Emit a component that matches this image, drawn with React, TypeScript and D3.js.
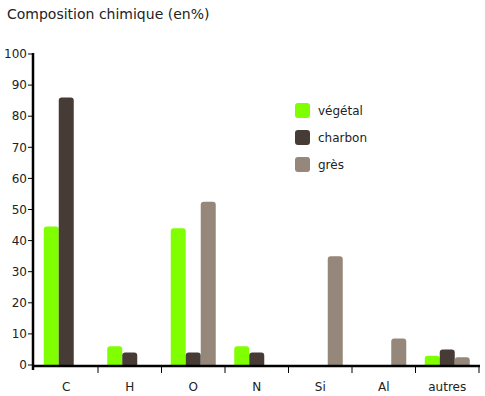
import * as d3 from 'd3'

const categories = ['C', 'H', 'O', 'N', 'Si', 'Al', 'autres']
const seriesNames = ['végétal', 'charbon', 'grès']
const vegetal = [44.5, 6, 44, 6, 0, 0, 3]
const charbon = [86, 4, 4, 4, 0, 0, 5]
const gres = [0, 0, 52.5, 0, 35, 8.5, 2.5]
const yTicks = [0, 10, 20, 30, 40, 50, 60, 70, 80, 90, 100]
const colors = ['#80ff00', '#463c35', '#958779']

const W = 485
const H = 396
const font = 'Verdana, "DejaVu Sans", sans-serif'

function topRounded(x: number, y: number, w: number, h: number, r: number) {
  const rr = Math.min(r, h, w / 2)
  const p = d3.path()
  p.moveTo(x, y + h)
  p.lineTo(x, y + rr)
  p.quadraticCurveTo(x, y, x + rr, y)
  p.lineTo(x + w - rr, y)
  p.quadraticCurveTo(x + w, y, x + w, y + rr)
  p.lineTo(x + w, y + h)
  p.closePath()
  return p.toString()
}

export default function App() {
  const series = [vegetal, charbon, gres]
  const x = d3.scaleBand<string>().domain(categories).range([34.5, 479]).paddingInner(0).paddingOuter(0)
  const y = d3.scaleLinear().domain([0, 100]).range([365, 54])
  const barW = 15
  const groupW = barW * series.length

  return (
    <svg width={W} height={H} style={{ position: 'absolute', left: 0, top: 0, background: '#fff' }}>
      <text x={7} y={19} fontFamily={font} fontSize={14} fill="#222">Composition chimique (en%)</text>

      {categories.map((c, i) => {
        const x0 = (x(c) ?? 0) + (x.bandwidth() - groupW) / 2
        return series.map((s, j) => {
          const v = s[i]
          if (!v) return null
          const top = y(v)
          return (
            <path key={`${c}-${j}`} d={topRounded(x0 + j * barW, top, barW, y(0) - top, 3)} fill={colors[j]} />
          )
        })
      })}

      {/* y axis */}
      <line x1={33} x2={33} y1={53} y2={370} stroke="#000" strokeWidth={2.5} />
      {yTicks.map((t) => (
        <g key={t}>
          <line x1={28} x2={33} y1={y(t)} y2={y(t)} stroke="#000" strokeWidth={1} />
          <text x={27} y={y(t)} dy="0.35em" textAnchor="end" fontFamily={font} fontSize={12} fill="#222">{t}</text>
        </g>
      ))}

      {/* x axis */}
      <line x1={32} x2={480} y1={366} y2={366} stroke="#000" strokeWidth={2.5} />
      {categories.map((c) => {
        const bx = (x(c) ?? 0) + x.bandwidth()
        return <line key={`t-${c}`} x1={bx} x2={bx} y1={366} y2={373} stroke="#000" strokeWidth={1} />
      })}
      {categories.map((c) => (
        <text key={`l-${c}`} x={(x(c) ?? 0) + x.bandwidth() / 2} y={391} textAnchor="middle" fontFamily={font} fontSize={12} fill="#222">{c}</text>
      ))}

      {/* legend */}
      {seriesNames.map((n, i) => {
        const ly = 103 + i * 27
        return (
          <g key={n}>
            <rect x={295} y={ly} width={15} height={15} rx={3} fill={colors[i]} />
            <text x={318} y={ly + 7.5} dy="0.35em" fontFamily={font} fontSize={12} fill="#222">{n}</text>
          </g>
        )
      })}
    </svg>
  )
}
